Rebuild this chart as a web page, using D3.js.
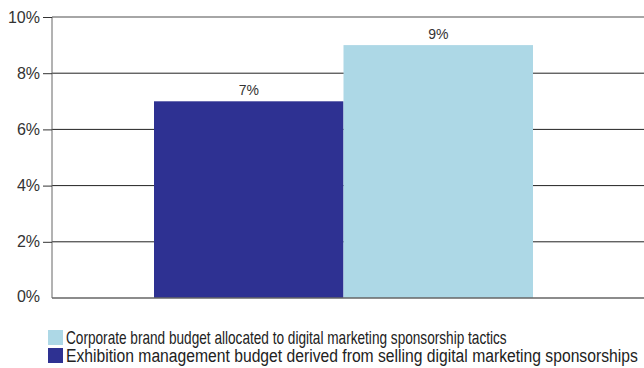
<!DOCTYPE html>
<html>
<head>
<meta charset="utf-8">
<script src="https://cdn.jsdelivr.net/npm/d3@7"></script>
<style>
  html, body { margin: 0; padding: 0; background: #fff; }
  svg { display: block; }
</style>
</head>
<body>
<svg id="chart" width="644" height="368"></svg>
<script>
// Share of budget tied to digital marketing sponsorships
const seriesNames = [
  "Exhibition management budget derived from selling digital marketing sponsorships",
  "Corporate brand budget allocated to digital marketing sponsorship tactics"
];
const seriesValues = [7, 9];
const seriesColors = ["#2e3192", "#add8e6"];
const yTicks = [0, 2, 4, 6, 8, 10];
const legendOrder = [1, 0];

(function draw() {
  const svg = d3.select("#chart");
  const W = 644;
  const plotLeft = 52, plotTop = 17, plotBottom = 298;
  const sansFont = "'Liberation Sans', Arial, Helvetica, sans-serif";

  const y = d3.scaleLinear().domain([0, 10]).range([plotBottom, plotTop]);
  const x = d3.scaleBand().domain(d3.range(seriesValues.length)).range([154, 533]).padding(0);

  // gridlines
  svg.append("g").selectAll("line")
    .data(yTicks.filter(t => t > 0))
    .join("line")
    .attr("x1", plotLeft).attr("x2", W)
    .attr("y1", d => y(d)).attr("y2", d => y(d))
    .attr("stroke", d => d === 10 ? "#888" : "#222")
    .attr("stroke-width", d => d === 10 ? 1.5 : 1);

  // bars
  svg.append("g").selectAll("rect")
    .data(seriesValues)
    .join("rect")
    .attr("x", (d, i) => x(i))
    .attr("width", x.bandwidth())
    .attr("y", d => y(d))
    .attr("height", d => plotBottom - y(d))
    .attr("fill", (d, i) => seriesColors[i]);

  // value labels
  svg.append("g").selectAll("text")
    .data(seriesValues)
    .join("text")
    .attr("x", (d, i) => x(i) + x.bandwidth() / 2)
    .attr("y", d => y(d) - 6)
    .attr("text-anchor", "middle")
    .attr("font-family", sansFont)
    .attr("font-size", 14)
    .attr("fill", "#333")
    .text(d => d + "%");

  // y axis
  const yAxis = d3.axisLeft(y).tickValues(yTicks).tickFormat(d => d + "%").tickSize(9).tickPadding(3);
  const ag = svg.append("g").attr("transform", `translate(${plotLeft},0)`).call(yAxis);
  ag.select(".domain").attr("stroke", "#666").attr("d", `M0,${plotTop}V${plotBottom}`);
  ag.selectAll(".tick line").attr("stroke", "#333").filter(d => d === 0).remove();
  ag.selectAll(".tick text")
    .attr("font-family", sansFont)
    .attr("font-size", 16)
    .attr("fill", "#333")
    .filter(d => d === 0).attr("dy", "0.2em");

  // baseline
  svg.append("line")
    .attr("x1", plotLeft).attr("x2", W)
    .attr("y1", plotBottom).attr("y2", plotBottom)
    .attr("stroke", "#666").attr("stroke-width", 1.5);

  // legend: condensed text, squeezed horizontally to its row width
  const lg = svg.append("g");
  const rows = legendOrder.map((s, r) => ({ s, r }));
  const widths = [441, 572];
  lg.selectAll("rect")
    .data(rows)
    .join("rect")
    .attr("x", 48).attr("y", d => 330 + d.r * 18)
    .attr("width", 15).attr("height", 15)
    .attr("fill", d => seriesColors[d.s]);
  lg.selectAll("text")
    .data(rows)
    .join("text")
    .attr("font-family", sansFont)
    .attr("font-size", 18)
    .attr("fill", "#222")
    .text(d => seriesNames[d.s])
    .each(function (d) {
      const natural = this.getComputedTextLength();
      const k = widths[d.r] / natural;
      d3.select(this).attr("transform",
        `translate(66,${344 + d.r * 18}) scale(${k},1)`);
    });
})();
</script>
</body>
</html>
